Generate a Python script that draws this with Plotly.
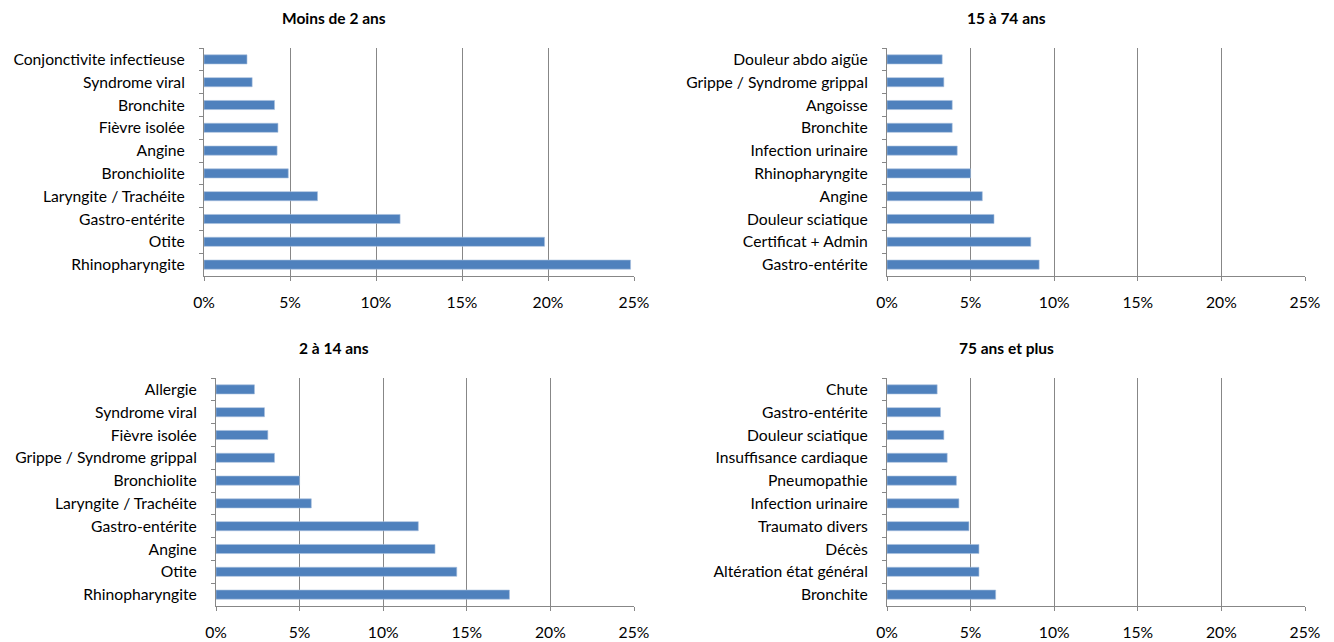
import plotly.graph_objects as go

# Motifs de recours les plus fréquents par tranche d'âge (% des actes)
titles = ["Moins de 2 ans", "15 à 74 ans", "2 à 14 ans", "75 ans et plus"]

cat_moins2 = ["Conjonctivite infectieuse", "Syndrome viral", "Bronchite", "Fièvre isolée",
              "Angine", "Bronchiolite", "Laryngite / Trachéite", "Gastro-entérite",
              "Otite", "Rhinopharyngite"]
val_moins2 = [2.5, 2.8, 4.1, 4.3, 4.25, 4.9, 6.6, 11.4, 19.8, 24.8]

cat_15_74 = ["Douleur abdo aigüe", "Grippe / Syndrome grippal", "Angoisse", "Bronchite",
             "Infection urinaire", "Rhinopharyngite", "Angine", "Douleur sciatique",
             "Certificat + Admin", "Gastro-entérite"]
val_15_74 = [3.3, 3.4, 3.9, 3.9, 4.2, 5.0, 5.7, 6.4, 8.6, 9.1]

cat_2_14 = ["Allergie", "Syndrome viral", "Fièvre isolée", "Grippe / Syndrome grippal",
            "Bronchiolite", "Laryngite / Trachéite", "Gastro-entérite", "Angine",
            "Otite", "Rhinopharyngite"]
val_2_14 = [2.3, 2.9, 3.1, 3.5, 5.0, 5.7, 12.1, 13.1, 14.4, 17.55]

cat_75plus = ["Chute", "Gastro-entérite", "Douleur sciatique", "Insuffisance cardiaque",
              "Pneumopathie", "Infection urinaire", "Traumato divers", "Décès",
              "Altération état général", "Bronchite"]
val_75plus = [3.0, 3.2, 3.4, 3.6, 4.15, 4.3, 4.9, 5.5, 5.5, 6.5]

x_ticks = [0, 5, 10, 15, 20, 25]
x_labels = ["0%", "5%", "10%", "15%", "20%", "25%"]

W, H = 1334, 642
BAR = "#4F81BD"
GRID = "#878787"
FONT = "Lato"
FS = 15.7

# panel boxes in pixels: (left, right, top, bottom)
panels = [
    (cat_moins2, val_moins2, (204, 634, 48, 276)),
    (cat_15_74, val_15_74, (887, 1305, 48, 276)),
    (cat_2_14, val_2_14, (216, 634, 378, 606)),
    (cat_75plus, val_75plus, (887, 1305, 378, 606)),
]
title_pos = [(334, 18), (1006, 18), (334, 348), (1006, 348)]

fig = go.Figure()
layout = dict(
    width=W, height=H,
    margin=dict(l=0, r=0, t=0, b=0, autoexpand=False),
    paper_bgcolor="white", plot_bgcolor="white",
    showlegend=False,
    bargap=0.6,
    font=dict(family=FONT, size=FS, color="#000000"),
    annotations=[],
)

for i, (cats, vals, (l, r, t, b)) in enumerate(panels):
    n = "" if i == 0 else str(i + 1)
    fig.add_trace(go.Bar(
        x=vals, y=cats, orientation="h",
        marker=dict(color=BAR, line=dict(color="#A7BFDE", width=0.6)),
        xaxis="x" + n, yaxis="y" + n, hoverinfo="x+y",
    ))
    layout["xaxis" + n] = dict(
        domain=[l / W, r / W], anchor="y" + n, automargin=False,
        range=[0, 25], tickmode="array", tickvals=x_ticks, ticktext=x_labels,
        showgrid=True, gridcolor=GRID, gridwidth=1,
        showline=True, linecolor=GRID, linewidth=1,
        ticks="outside", ticklen=4, tickcolor=GRID,
        ticklabelstandoff=8, zeroline=False,
        tickfont=dict(family=FONT, size=FS),
    )
    layout["yaxis" + n] = dict(
        domain=[1 - b / H, 1 - t / H], anchor="x" + n, automargin=False,
        autorange="reversed", type="category",
        showline=True, linecolor=GRID, linewidth=1,
        ticks="outside", ticklen=4, tickcolor=GRID, tickson="boundaries",
        showgrid=False, ticklabelstandoff=15,
        tickfont=dict(family=FONT, size=FS),
    )

for (tx, ty), txt in zip(title_pos, titles):
    layout["annotations"].append(dict(
        text="<b>" + txt + "</b>", x=tx / W, y=1 - ty / H,
        xref="paper", yref="paper", showarrow=False,
        xanchor="center", yanchor="middle",
        font=dict(family=FONT, size=15.5, color="#000000"),
    ))

fig.update_layout(**layout)
fig.write_html("out.html")
